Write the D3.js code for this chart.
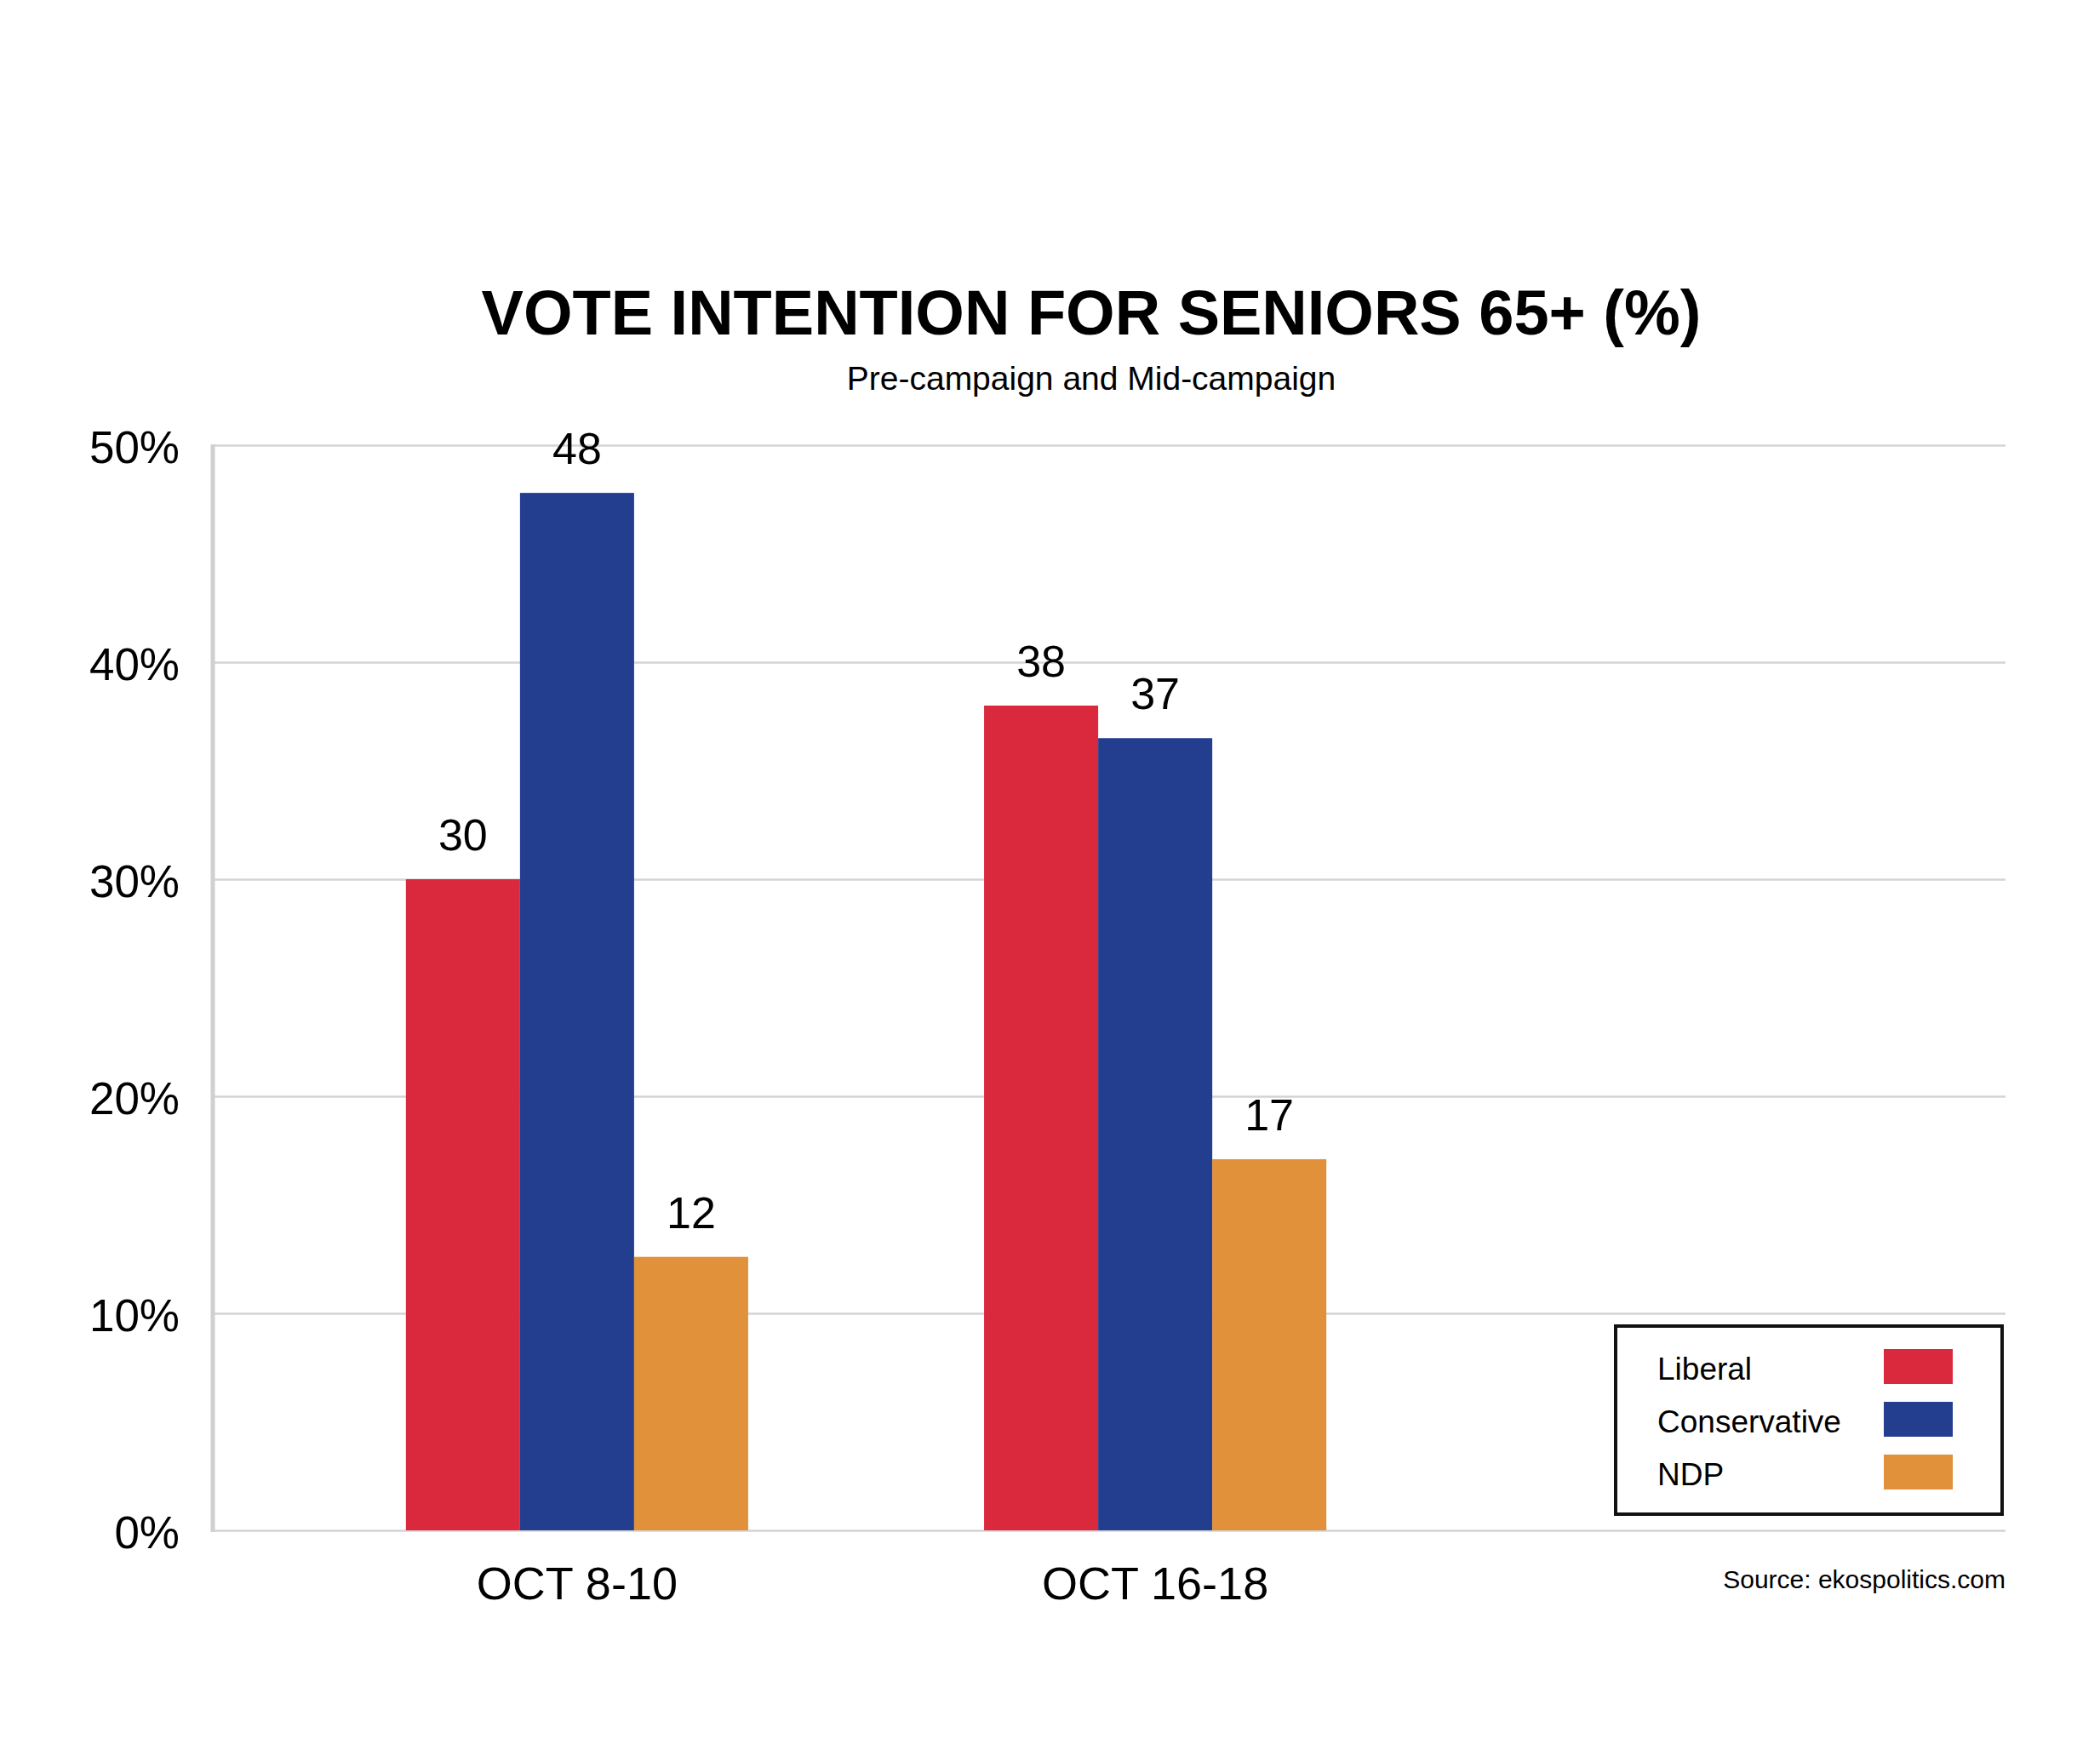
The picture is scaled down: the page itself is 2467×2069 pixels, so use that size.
<!DOCTYPE html>
<html>
<head>
<meta charset="utf-8">
<script src="https://cdn.jsdelivr.net/npm/d3@7"></script>
<style>
  body { margin: 0; background: #fff; }
  text { font-family: "Liberation Sans", Arial, Helvetica, sans-serif; fill: #000; }
</style>
</head>
<body>
<div id="root"></div>
<script>
const width = 2467;
const height = 2069;

const categories = ["OCT 8-10", "OCT 16-18"];
const parties = ["Liberal", "Conservative", "NDP"];
const liberal = [30, 38];
const conservative = [47.8, 36.5];
const ndp = [12.6, 17.1];
const valueLabels = [["30", "48", "12"], ["38", "37", "17"]];
const yTicks = [0, 10, 20, 30, 40, 50];
const colors = ["#da293c", "#243e8f", "#e1913a"];

const plotLeft = 250;
const plotRight = 2356;
const plotTop = 523;
const plotBottom = 1798;

let svg = d3
  .select("#root")
  .append("svg")
  .attr("width", width)
  .attr("height", height)
  .style("background", "#fff");

svg
  .append("text")
  .attr("x", 1282)
  .attr("y", 393)
  .attr("text-anchor", "middle")
  .style("font-size", "74px")
  .style("font-weight", "bold")
  .text("VOTE INTENTION FOR SENIORS 65+ (%)");

svg
  .append("text")
  .attr("x", 1282)
  .attr("y", 458)
  .attr("text-anchor", "middle")
  .style("font-size", "39px")
  .text("Pre-campaign and Mid-campaign");

let y = d3.scaleLinear().domain([0, 50]).range([plotBottom, plotTop]);

let yAxis = d3
  .axisLeft(y)
  .tickValues(yTicks)
  .tickSize(-(plotRight - plotLeft))
  .tickPadding(39)
  .tickFormat((d) => d + "%");

let yG = svg
  .append("g")
  .attr("transform", "translate(" + plotLeft + ",0)")
  .call(yAxis);
yG.select(".domain").remove();
yG.selectAll(".tick line").attr("stroke", "#d4d4d4").attr("stroke-width", 2.5);
yG.selectAll(".tick text")
  .attr("dy", "0.38em")
  .style("font-size", "53px")
  .style("font-family", "'Liberation Sans', Arial, sans-serif")
  .attr("fill", "#000");

// vertical axis line
svg
  .append("line")
  .attr("x1", plotLeft)
  .attr("x2", plotLeft)
  .attr("y1", plotTop - 1)
  .attr("y2", plotBottom + 2)
  .attr("stroke", "#d0d0d0")
  .attr("stroke-width", 5);

let x0 = d3
  .scaleBand()
  .domain(categories)
  .range([plotLeft, 1785])
  .paddingInner(0.408)
  .paddingOuter(0.334);

let x1 = d3.scaleBand().domain(parties).range([0, x0.bandwidth()]).padding(0);

let xAxis = d3.axisBottom(x0).tickSize(0).tickPadding(43);
let xG = svg
  .append("g")
  .attr("transform", "translate(0," + plotBottom + ")")
  .call(xAxis);
xG.select(".domain").remove();
xG.selectAll(".tick text")
  .style("font-size", "54px")
  .style("font-family", "'Liberation Sans', Arial, sans-serif")
  .attr("fill", "#000");

let rows = categories.map(function (c, i) {
  return {
    category: c,
    values: [liberal[i], conservative[i], ndp[i]],
    labels: valueLabels[i]
  };
});

function barData(d) {
  return d.values.map((v, j) => ({ party: parties[j], value: v, label: d.labels[j] }));
}

let groups = svg
  .selectAll(".group")
  .data(rows)
  .enter()
  .append("g")
  .attr("class", "group")
  .attr("transform", (d) => "translate(" + x0(d.category) + ",0)");

groups
  .selectAll("rect")
  .data(barData)
  .enter()
  .append("rect")
  .attr("x", (d) => x1(d.party))
  .attr("y", (d) => y(d.value))
  .attr("width", x1.bandwidth())
  .attr("height", (d) => plotBottom - y(d.value))
  .attr("fill", (d, j) => colors[j]);

groups
  .selectAll(".val")
  .data(barData)
  .enter()
  .append("text")
  .attr("class", "val")
  .attr("x", (d) => x1(d.party) + x1.bandwidth() / 2)
  .attr("y", (d) => y(d.value) - 34)
  .attr("text-anchor", "middle")
  .style("font-size", "52px")
  .text((d) => d.label);

// legend
let legend = svg.append("g").attr("transform", "translate(1898,1558)");
legend
  .append("rect")
  .attr("width", 454)
  .attr("height", 221)
  .attr("fill", "#fff")
  .attr("stroke", "#111")
  .attr("stroke-width", 4);

let items = legend
  .selectAll(".item")
  .data(parties)
  .enter()
  .append("g")
  .attr("class", "item")
  .attr("transform", (d, i) => "translate(0," + (27 + i * 62) + ")");

items
  .append("text")
  .attr("x", 49)
  .attr("y", 36)
  .style("font-size", "37px")
  .text((d) => d);

items
  .append("rect")
  .attr("x", 315)
  .attr("y", 0)
  .attr("width", 81)
  .attr("height", 41)
  .attr("fill", (d, i) => colors[i]);

svg
  .append("text")
  .attr("x", plotRight)
  .attr("y", 1866)
  .attr("text-anchor", "end")
  .style("font-size", "30px")
  .text("Source: ekospolitics.com");
</script>
</body>
</html>
